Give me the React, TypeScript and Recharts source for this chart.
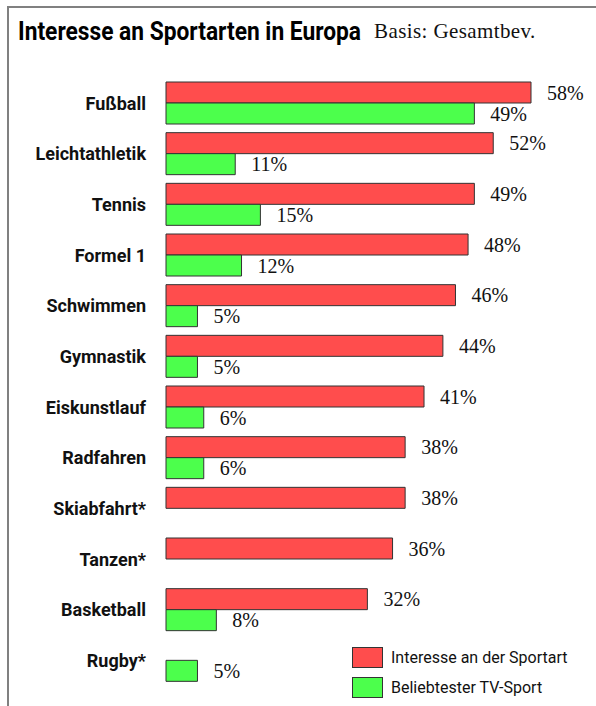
import React from 'react';
import { BarChart, Bar, XAxis, YAxis, LabelList } from 'recharts';

const sports = [
  'Fußball', 'Leichtathletik', 'Tennis', 'Formel 1', 'Schwimmen', 'Gymnastik',
  'Eiskunstlauf', 'Radfahren', 'Skiabfahrt*', 'Tanzen*', 'Basketball', 'Rugby*',
];
const interest = [58, 52, 49, 48, 46, 44, 41, 38, 38, 36, 32, null];
const tvSport = [49, 11, 15, 12, 5, 5, 6, 6, null, null, 8, 5];

const seriesNames = ['Interesse an der Sportart', 'Beliebtester TV-Sport'];
const RED = '#ff4d4d';
const GREEN = '#4cff4c';

const data = sports.map((name, i) => ({ name, interest: interest[i], tv: tvSport[i] }));

const sans = "Roboto, 'Liberation Sans', sans-serif";
const serif = "'Liberation Serif', 'DejaVu Serif', serif";

const fmt = (v: any) => (v == null ? '' : `${v}%`);

export default function App() {
  return (
    <div style={{ position: 'absolute', left: 0, top: 0, width: 596, height: 706, background: '#fff', overflow: 'hidden' }}>
      <div style={{ position: 'absolute', left: 7, top: 6, width: 600, height: 720, borderLeft: '2px solid #808080', borderTop: '2px solid #808080' }} />
      {/* title squeezed to mimic the condensed headline font */}
      <div style={{ position: 'absolute', left: 18, top: 17, whiteSpace: 'nowrap', fontFamily: sans, fontWeight: 'bold', fontSize: 25, color: '#000', transform: 'scaleX(0.91)', transformOrigin: 'left top' }}>
        Interesse an Sportarten in Europa
      </div>
      <div style={{ position: 'absolute', left: 374, top: 19, whiteSpace: 'nowrap', fontFamily: serif, fontSize: 21, letterSpacing: 0.4, color: '#111' }}>
        Basis: Gesamtbev.
      </div>
      <BarChart
        width={596}
        height={706}
        layout="vertical"
        data={data}
        margin={{ top: 78, right: 65, left: 0, bottom: 20 }}
        barGap={0}
        barSize={21}
        style={{ position: 'absolute', left: 0, top: 0 }}
      >
        <XAxis type="number" domain={[0, 58]} hide />
        <YAxis
          type="category"
          dataKey="name"
          width={166}
          axisLine={false}
          tickLine={false}
          tickSize={0}
          tickMargin={20}
          tick={{ fontFamily: sans, fontWeight: 'bold', fontSize: 18, fill: '#111' }}
        />
        <Bar dataKey="interest" name={seriesNames[0]} fill={RED} stroke="#333" strokeWidth={1} isAnimationActive={false}>
          <LabelList dataKey="interest" position="right" offset={16} formatter={fmt}
            style={{ fontFamily: serif, fontSize: 20, fill: '#111' }} />
        </Bar>
        <Bar dataKey="tv" name={seriesNames[1]} fill={GREEN} stroke="#333" strokeWidth={1} isAnimationActive={false}>
          <LabelList dataKey="tv" position="right" offset={16} formatter={fmt}
            style={{ fontFamily: serif, fontSize: 20, fill: '#111' }} />
        </Bar>
      </BarChart>
      <div style={{ position: 'absolute', left: 352, top: 642, fontFamily: sans, fontSize: 16, color: '#111' }}>
        {[RED, GREEN].map((c, i) => (
          <div key={i} style={{ display: 'flex', alignItems: 'center', height: 30 }}>
            <div style={{ width: 29, height: 19, background: c, border: '1px solid #333', marginRight: 8 }} />
            <span>{seriesNames[i]}</span>
          </div>
        ))}
      </div>
    </div>
  );
}
